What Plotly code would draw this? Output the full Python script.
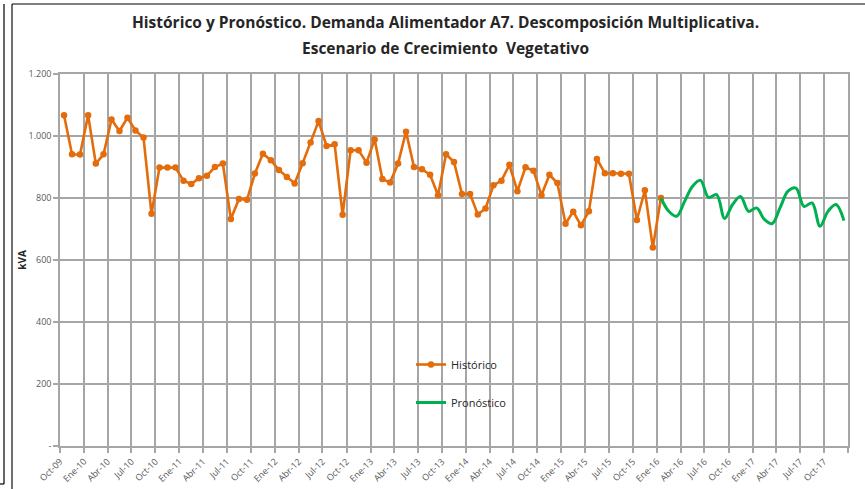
import pandas as pd
import plotly.graph_objects as go

# Monthly demand, feeder A7 (kVA)
hist_start = "2009-10-01"
hist_kva = [
    1067, 941, 940, 1067, 911, 941, 1053, 1016, 1059, 1018, 995, 749,
    898, 898, 898, 856, 845, 864, 872, 900, 911, 732, 797, 794,
    879, 943, 922, 890, 868, 847, 912, 979, 1048, 968, 973, 746,
    954, 954, 914, 989, 861, 850, 911, 1014, 900, 893, 875, 809,
    941, 916, 813, 813, 747, 766, 841, 856, 907, 822, 899, 888,
    809, 875, 848, 717, 756, 712, 757, 926, 880, 880, 878, 878,
    729, 825, 640, 800,
]

# Multiplicative-decomposition forecast (vegetative growth scenario)
fc_start = "2016-01-01"
fc_kva = [
    800, 757, 741, 789, 838, 857, 802, 811, 734, 779, 805, 757,
    768, 731, 717, 768, 822, 832, 773, 784, 709, 757, 779, 727,
]

mes_abrev = {1: "Ene", 4: "Abr", 7: "Jul", 10: "Oct"}
y_ticks = [0, 200, 400, 600, 800, 1000, 1200]
y_labels = ["-", "200", "400", "600", "800", "1.000", "1.200"]

hist_dates = pd.date_range(hist_start, periods=len(hist_kva), freq="MS")
fc_dates = pd.date_range(fc_start, periods=len(fc_kva), freq="MS")
tick_dates = pd.date_range("2009-10-01", "2018-01-01", freq="3MS")
tick_text = [f"{mes_abrev[d.month]}-{d.strftime('%y')}" for d in tick_dates]
tick_text[-1] = ""

W, H = 865, 489
ML, MR, MT, MB = 60, 17, 74, 43
PW, PH = W - ML - MR, H - MT - MB


def px(x):
    return (x - ML) / PW


def py(y):
    return (H - MB - y) / PH


ORANGE = "#E46C0A"
GREEN = "#00B050"
GRID = "#A6A6A6"

fig = go.Figure()
fig.add_trace(go.Scatter(
    x=hist_dates, y=hist_kva, name="Histórico", legendgroup="h",
    xperiod="M1", xperiodalignment="middle",
    mode="lines+markers",
    line=dict(color=ORANGE, width=2.6),
    marker=dict(color=ORANGE, size=6.5),
))
fig.add_trace(go.Scatter(
    x=fc_dates, y=fc_kva, name="Pronóstico", legendgroup="p",
    xperiod="M1", xperiodalignment="middle",
    mode="lines",
    line=dict(color=GREEN, width=3, shape="spline", smoothing=1.0),
))

tick_font = dict(family="Open Sans, sans-serif", size=9, color="#595959")

fig.update_layout(
    width=W, height=H,
    margin=dict(l=ML, r=MR, t=MT, b=MB, autoexpand=False),
    paper_bgcolor="white", plot_bgcolor="white",
    showlegend=True,
    legend=dict(
        x=px(411), y=py(350), xanchor="left", yanchor="top",
        bgcolor="rgba(0,0,0,0)", traceorder="grouped", tracegroupgap=19,
        font=dict(family="Open Sans, sans-serif", size=11, color="#262626"),
        itemwidth=30,
    ),
    xaxis=dict(
        type="date", automargin=False,
        range=["2009-10-01", "2018-01-01"],
        tickmode="array", tickvals=tick_dates, ticktext=tick_text,
        tickangle=-45, tickfont=tick_font,
        ticks="outside", ticklen=5, tickcolor=GRID, tickwidth=1.5,
        showgrid=True, gridcolor=GRID, gridwidth=1.5,
        showline=True, linecolor=GRID, linewidth=1.5, mirror=True,
        zeroline=False,
    ),
    yaxis=dict(
        automargin=False,
        range=[0, 1200],
        tickmode="array", tickvals=y_ticks, ticktext=y_labels,
        tickfont=tick_font,
        ticks="outside", ticklen=5, tickcolor=GRID, tickwidth=1.5,
        showgrid=True, gridcolor=GRID, gridwidth=1.5,
        showline=True, linecolor=GRID, linewidth=1.5, mirror=True,
        zeroline=False,
        title=dict(text="<b>kVA</b>", standoff=0,
                   font=dict(family="Open Sans, sans-serif", size=10, color="#262626")),
    ),
    annotations=[
        dict(text="<b>Histórico y Pronóstico. Demanda Alimentador A7. Descomposición Multiplicativa.</b>",
             xref="paper", yref="paper", x=px(445), y=py(22), xanchor="center", yanchor="middle",
             showarrow=False, font=dict(family="Open Sans, sans-serif", size=15.5, color="#262626")),
        dict(text="<b>Escenario de Crecimiento  Vegetativo</b>",
             xref="paper", yref="paper", x=px(445), y=py(48), xanchor="center", yanchor="middle",
             showarrow=False, font=dict(family="Open Sans, sans-serif", size=15.5, color="#262626")),
    ],
    shapes=[
        dict(type="line", xref="paper", yref="paper", x0=px(4), x1=px(4), y0=py(4), y1=py(484),
             line=dict(color="black", width=1.2)),
        dict(type="line", xref="paper", yref="paper", x0=px(0), x1=px(4), y0=py(484), y1=py(484),
             line=dict(color="black", width=1.2)),
        dict(type="line", xref="paper", yref="paper", x0=px(12), x1=px(12), y0=py(4), y1=py(489),
             line=dict(color="#707070", width=2)),
        dict(type="line", xref="paper", yref="paper", x0=px(12), x1=px(865), y0=py(4), y1=py(4),
             line=dict(color="black", width=1.2)),
    ],
)

fig.write_html("out.html")
